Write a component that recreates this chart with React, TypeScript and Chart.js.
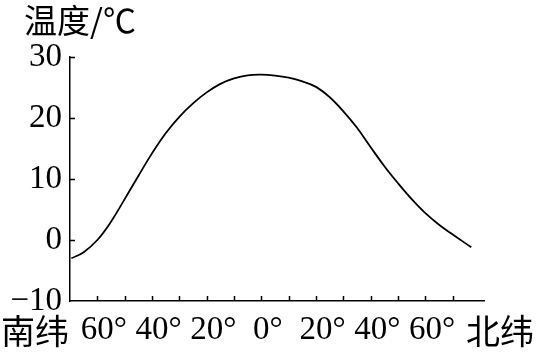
import React, { useEffect, useRef } from "react";
import { Chart, registerables } from "chart.js";

Chart.register(...registerables);

const latitudes = [-69.5, -65, -60, -55, -50, -45, -40, -35, -30, -25, -20, -15, -10, -5, 0, 5, 10, 15, 20, 25, 30, 35, 40, 45, 50, 55, 60, 65, 70, 76.8];
const temperatures = [-3.0, -2.0, 0.0, 3.0, 6.7, 10.5, 14.2, 17.5, 20.2, 22.4, 24.2, 25.6, 26.5, 27.0, 27.1, 26.95, 26.6, 26.0, 25.1, 23.4, 21.1, 18.4, 15.2, 12.1, 9.3, 6.7, 4.4, 2.5, 0.9, -1.2];
const yTicks = [-10, 0, 10, 20, 30];
const xTickValues = [-60, -50, -40, -30, -20, -10, 0, 10, 20, 30, 40, 50, 60, 70];
const xLabelValues = [-60, -40, -20, 0, 20, 40, 60];
const xLabelTexts = ["60", "40", "20", "0", "20", "40", "60"];
const yTitle = "温度/℃";
const southLabel = "南纬";
const northLabel = "北纬";

const SERIF = '"Liberation Serif", "DejaVu Serif", serif';
const CJK = '"Noto Sans CJK SC", "Liberation Serif", sans-serif';

const decorPlugin = {
  id: "decor",
  afterDraw(chart: any) {
    const ctx = chart.ctx;
    const xs = chart.scales.x;
    const ys = chart.scales.y;
    const left = xs.left;
    const bottom = ys.bottom;
    ctx.save();
    ctx.strokeStyle = "#000";
    ctx.lineWidth = 1.5;
    ctx.beginPath();
    for (const v of yTicks) {
      if (v === -10) continue;
      const py = Math.round(ys.getPixelForValue(v)) + 0.5;
      ctx.moveTo(left, py);
      ctx.lineTo(left + 5, py);
    }
    for (const v of xTickValues) {
      const px = Math.round(xs.getPixelForValue(v)) + 0.5;
      ctx.moveTo(px, bottom);
      ctx.lineTo(px, bottom - 5);
    }
    ctx.stroke();

    ctx.fillStyle = "#000";
    ctx.font = "33px " + SERIF;
    ctx.textAlign = "left";
    ctx.textBaseline = "alphabetic";
    xLabelValues.forEach((v, i) => {
      const digits = xLabelTexts[i];
      const w = ctx.measureText(digits).width;
      const px = xs.getPixelForValue(v);
      ctx.fillText(digits + "°", px - w / 2, 339);
    });

    ctx.font = "34px " + CJK;
    ctx.textBaseline = "middle";
    ctx.fillText(southLabel, 1, 331);
    ctx.fillText(northLabel, 466, 331);

    ctx.font = "33px " + CJK;
    ctx.fillText(yTitle, 24, 20);
    ctx.restore();
  },
};

export default function App() {
  const ref = useRef<HTMLCanvasElement | null>(null);
  useEffect(() => {
    if (!ref.current) return;
    const chart = new Chart(ref.current, {
      type: "line",
      data: {
        datasets: [
          {
            data: latitudes.map((x, i) => ({ x, y: temperatures[i] })),
            borderColor: "#000",
            borderWidth: 1.8,
            pointRadius: 0,
            fill: false,
            tension: 0.4,
          },
        ],
      },
      options: {
        animation: false,
        responsive: false,
        devicePixelRatio: 1,
        layout: { padding: { top: 57, right: 51.3, left: 0, bottom: 0 } },
        plugins: { legend: { display: false }, tooltip: { enabled: false } },
        scales: {
          x: {
            type: "linear",
            min: -70,
            max: 81.7,
            grid: { display: false, drawTicks: false },
            border: { display: true, color: "#000", width: 1.5 },
            ticks: { display: false },
            afterFit: (s: any) => {
              s.height = 53;
            },
          },
          y: {
            min: -10,
            max: 30,
            grid: { display: false, drawTicks: false },
            border: { display: true, color: "#000", width: 1.5 },
            ticks: {
              stepSize: 10,
              color: "#000",
              padding: 8,
              font: { family: SERIF, size: 33 },
              callback: (v: any) => (Number(v) < 0 ? "−" + Math.abs(Number(v)) : String(v)),
            },
            afterFit: (s: any) => {
              s.width = 70;
            },
          },
        },
      },
      plugins: [decorPlugin],
    });
    return () => chart.destroy();
  }, []);
  return (
    <div style={{ position: "absolute", left: 0, top: 0, width: 536, height: 354, background: "#fff" }}>
      <canvas ref={ref} width={536} height={354} />
    </div>
  );
}
